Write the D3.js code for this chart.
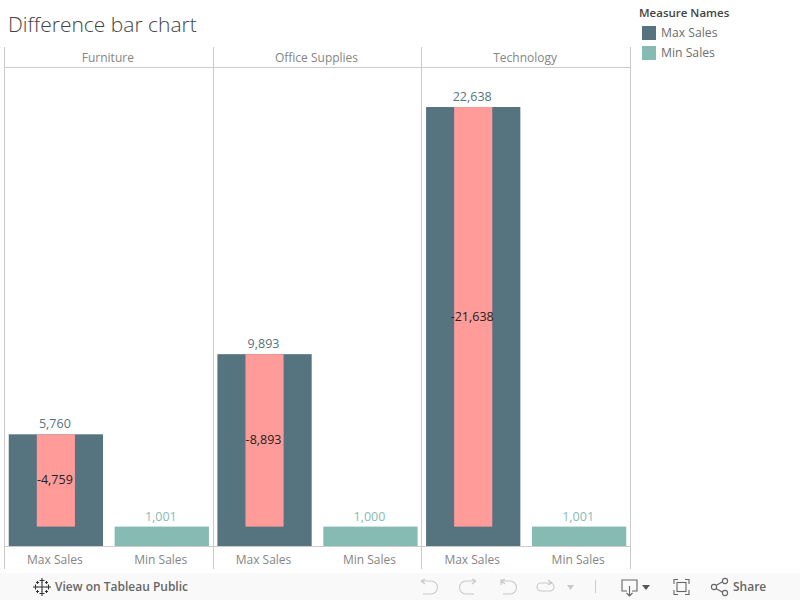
<!DOCTYPE html>
<html lang="en">
<head>
    <meta charset="UTF-8">
    <title>Difference bar chart</title>
    <script src="https://d3js.org/d3.v7.min.js"></script>
    <style>
        html, body { margin: 0; padding: 0; background: #fff; overflow: hidden; }
        svg { display: block; }
        text { font-family: "Open Sans", Lato, sans-serif; }
        .grid { stroke: #cbcbcb; stroke-width: 1; shape-rendering: crispEdges; }
        .icon { fill: none; stroke: #666; stroke-width: 1.1; }
        .icon.off { stroke: #c9c9c9; }
    </style>
</head>
<body>
<script>
    // data
    var categories = ["Furniture", "Office Supplies", "Technology"];
    var measures = ["Max Sales", "Min Sales"];
    var maxSales = [5760, 9893, 22638];
    var minSales = [1001, 1000, 1001];
    var diffSales = [-4759, -8893, -21638];

    var w = 800, h = 600;
    var colors = { "Max Sales": "#56747f", "Min Sales": "#86bbb4" };
    var diffColor = "#ff9b98";
    // plain hyphen for negatives, as in the original labels
    var fmt = d3.formatLocale({ decimal: ".", thousands: ",", grouping: [3], currency: ["$", ""], minus: "-" }).format(",");

    var svg = d3.select("body").append("svg").attr("width", w).attr("height", h);
    svg.append("rect").attr("width", w).attr("height", h).attr("fill", "#fff");

    // scales
    var xPanel = d3.scaleBand().domain(categories).range([4.5, 630.5]);
    var xBar = d3.scaleBand().domain(measures).range([0, xPanel.bandwidth()]).paddingInner(0.11).paddingOuter(0.04);
    var xDiff = d3.scaleBand().domain(["diff"]).range([0, xBar.bandwidth()]).paddingInner(0).paddingOuter(0.737);
    var y = d3.scaleLinear().domain([0, 24650]).range([546, 68]);

    // title
    svg.append("text").attr("x", 8).attr("y", 32).attr("font-size", 21).attr("font-weight", 300)
        .attr("fill", "#444").text("Difference bar chart");

    // bars
    categories.forEach(function (c, i) {
        var g = svg.append("g").attr("transform", "translate(" + xPanel(c) + ",0)");
        var vals = [maxSales[i], minSales[i]];

        g.selectAll("rect.bar").data(measures).enter().append("rect")
            .attr("class", "bar")
            .attr("x", function (m) { return xBar(m); })
            .attr("width", xBar.bandwidth())
            .attr("y", function (m, j) { return y(vals[j]); })
            .attr("height", function (m, j) { return y(0) - y(vals[j]); })
            .attr("fill", function (m) { return colors[m]; });

        // difference bar hangs down from the top of Max Sales
        var top = y(maxSales[i]), bottom = y(maxSales[i] + diffSales[i]);
        g.append("rect")
            .attr("x", xBar("Max Sales") + xDiff("diff"))
            .attr("width", xDiff.bandwidth())
            .attr("y", top)
            .attr("height", bottom - top)
            .attr("fill", diffColor);

        g.selectAll("text.val").data(measures).enter().append("text")
            .attr("class", "val")
            .attr("x", function (m) { return xBar(m) + xBar.bandwidth() / 2 - 1; })
            .attr("y", function (m, j) { return y(vals[j]) - 6; })
            .attr("text-anchor", "middle").attr("font-size", 12.5)
            .attr("fill", function (m) { return colors[m]; })
            .text(function (m, j) { return fmt(vals[j]); });

        g.append("text")
            .attr("x", xBar("Max Sales") + xBar.bandwidth() / 2 - 1)
            .attr("y", (top + bottom) / 2 + 4)
            .attr("text-anchor", "middle").attr("font-size", 12.5).attr("fill", "#222")
            .text(fmt(diffSales[i]));

        // category header
        g.append("text")
            .attr("x", xPanel.bandwidth() / 2 - 1).attr("y", 62)
            .attr("text-anchor", "middle").attr("font-size", 12).attr("fill", "#858585")
            .text(c);

        // measure labels
        g.selectAll("text.tick").data(measures).enter().append("text")
            .attr("class", "tick")
            .attr("x", function (m) { return xBar(m) + xBar.bandwidth() / 2 - 1; })
            .attr("y", 564)
            .attr("text-anchor", "middle").attr("font-size", 12).attr("fill", "#858585")
            .text(function (m) { return m; });
    });

    // panel lines
    var edges = categories.map(function (c) { return Math.floor(xPanel(c)) + 0.5; }).concat([630.5]);
    svg.selectAll("line.v").data(edges).enter().append("line")
        .attr("class", "grid v").attr("x1", function (d) { return d; }).attr("x2", function (d) { return d; })
        .attr("y1", 47).attr("y2", 569);
    svg.selectAll("line.h").data([67.5, 546.5]).enter().append("line")
        .attr("class", "grid h").attr("x1", 4).attr("x2", 631)
        .attr("y1", function (d) { return d; }).attr("y2", function (d) { return d; });

    // legend
    var legend = svg.append("g");
    legend.append("text").attr("x", 639).attr("y", 17).attr("font-size", 11.5).attr("font-weight", 600)
        .attr("fill", "#444").text("Measure Names");
    var row = legend.selectAll("g").data(measures).enter().append("g")
        .attr("transform", function (d, i) { return "translate(642," + (26 + i * 20) + ")"; });
    row.append("rect").attr("width", 14).attr("height", 14).attr("fill", function (d) { return colors[d]; });
    row.append("text").attr("x", 19).attr("y", 11).attr("font-size", 12.2)
        .attr("fill", "#6e6e6e").text(function (d) { return d; });

    // tableau footer
    var foot = svg.append("g");
    foot.append("rect").attr("y", 573).attr("width", w).attr("height", 27).attr("fill", "#f9f9f9");

    var logo = foot.append("g").attr("stroke", "#333").attr("stroke-width", 1.1).attr("fill", "none");
    [[42, 587, 4.5], [35.5, 587, 2.5], [48.5, 587, 2.5], [42, 580.5, 2.5], [42, 593.5, 2.5],
     [37.5, 582.5, 1.5], [46.5, 582.5, 1.5], [37.5, 591.5, 1.5], [46.5, 591.5, 1.5]].forEach(function (p) {
        logo.append("path").attr("d", "M" + (p[0] - p[2]) + "," + p[1] + "H" + (p[0] + p[2]) + "M" + p[0] + "," + (p[1] - p[2]) + "V" + (p[1] + p[2]));
    });
    foot.append("text").attr("x", 55).attr("y", 591).attr("font-size", 12).attr("font-weight", 600)
        .attr("fill", "#666").text("View on Tableau Public");

    // toolbar icons
    function icon(d, off) { foot.append("path").attr("class", off ? "icon off" : "icon").attr("d", d); }
    icon("M421,581 H431 A6.5,6.5 0 0 1 431,594 H423 M421,581 L425,579 M421,581 L425,584", true);
    icon("M476,581 H466 A6.5,6.5 0 0 0 466,594 H474 M476,581 L472,579 M476,581 L472,584", true);
    icon("M501,579 V585 M501,581 H510 A6.5,6.5 0 0 1 510,594 H503 M501,581 L505,579 M501,581 L505,584", true);
    icon("M541,583 H550 A4,4 0 0 1 550,591 H541 A4,4 0 0 1 541,583 M548,580 L552,583 L548,585", true);
    foot.append("path").attr("d", "M567,585 H574 L570.5,590 Z").attr("fill", "#c9c9c9");
    foot.append("line").attr("class", "grid").attr("x1", 595.5).attr("x2", 595.5).attr("y1", 580).attr("y2", 593);
    icon("M627,591 H622 V580 H637 V591 H632 M629.5,586 V596 M626.5,593 L629.5,596 L632.5,593", false);
    foot.append("path").attr("d", "M642,585 H650 L646,590 Z").attr("fill", "#555");
    icon("M674,584 V579.5 H678 M685,579.5 H689 V584 M689,590 V594.5 H685 M678,594.5 H674 V590", false);
    foot.append("rect").attr("class", "icon").attr("x", 677).attr("y", 582.5).attr("width", 9).attr("height", 9);
    icon("M716,585.5 L723,581.5 M716,588.5 L723,592.5", false);
    foot.append("circle").attr("class", "icon").attr("cx", 714).attr("cy", 587).attr("r", 2.6);
    foot.append("circle").attr("class", "icon").attr("cx", 725).attr("cy", 581).attr("r", 2.6);
    foot.append("circle").attr("class", "icon").attr("cx", 725).attr("cy", 593).attr("r", 2.6);
    foot.append("text").attr("x", 733).attr("y", 591).attr("font-size", 12).attr("font-weight", 600)
        .attr("fill", "#666").text("Share");
</script>
</body>
</html>
